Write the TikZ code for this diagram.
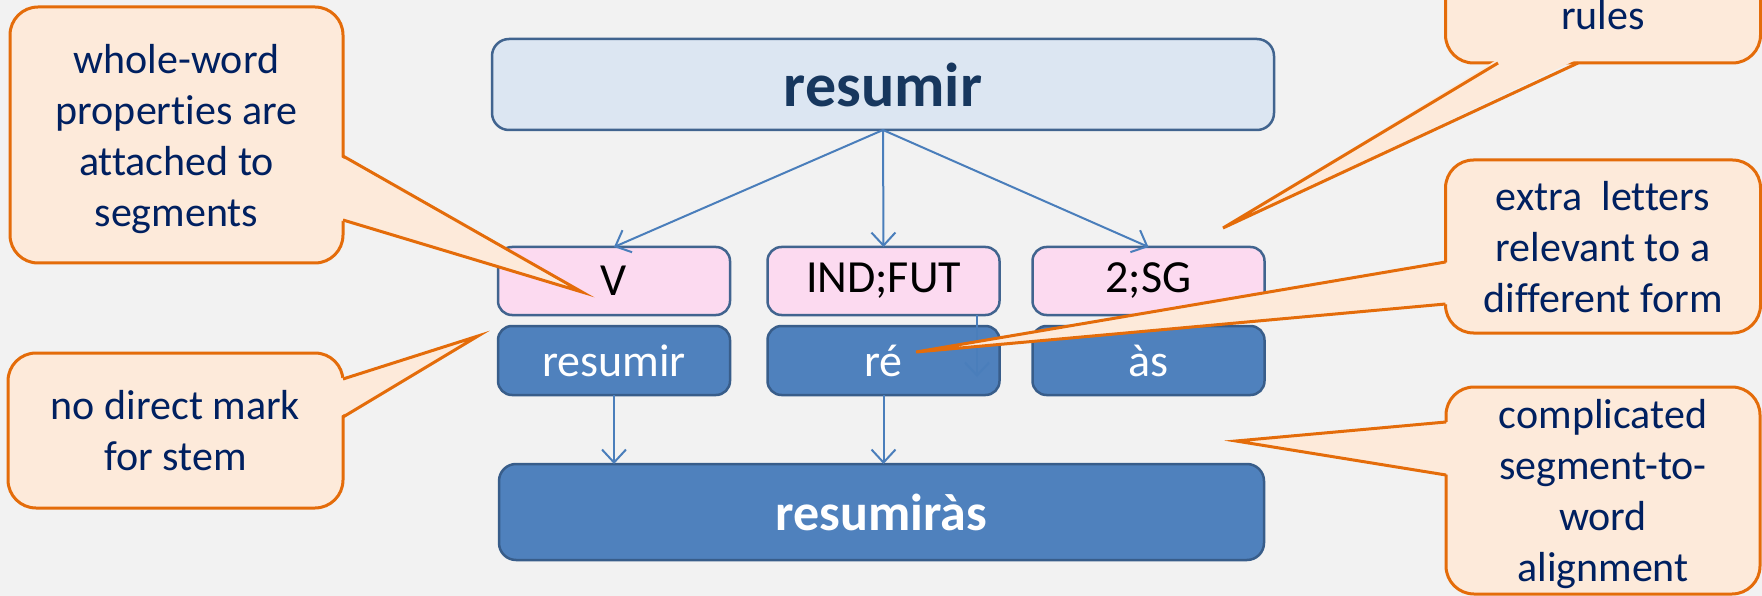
\documentclass[tikz,border=0pt]{standalone}
\usepackage{fontspec}
\setmainfont{Carlito}[Ligatures={TeX,NoCommon}]
\usetikzlibrary{arrows.meta}

\definecolor{bgcol}{HTML}{F2F2F2}
\definecolor{headfill}{HTML}{DCE6F2}
\definecolor{headline}{HTML}{41648F}
\definecolor{headtext}{HTML}{17375E}
\definecolor{tagfill}{HTML}{FCDAF0}
\definecolor{segfill}{HTML}{4F81BD}
\definecolor{segline}{HTML}{385D8A}
\definecolor{linkcol}{HTML}{4A7EBB}
\definecolor{notefill}{HTML}{FDEADA}
\definecolor{noteline}{HTML}{E46C0A}
\definecolor{notetext}{HTML}{002060}

\tikzset{
  box/.style={rectangle, rounded corners=14pt, inner sep=0pt, outer sep=0pt, line width=2.5pt},
  head/.style={box, rounded corners=17pt, fill=headfill, draw=headline, text=headtext,
    font=\fontsize{62}{74}\selectfont\bfseries, minimum width=782pt, minimum height=91pt},
  tag/.style={box, fill=tagfill, draw=headline, font=\fontsize{46}{55}\selectfont,
    minimum width=232pt, minimum height=68pt},
  seg/.style={box, fill=segfill, draw=segline, text=white, font=\fontsize{46}{55}\selectfont,
    minimum width=232pt, minimum height=69pt},
  word/.style={seg, rounded corners=17pt, font=\fontsize{52}{62}\selectfont\bfseries,
    minimum width=765pt, minimum height=96pt},
  link/.style={draw=linkcol, line width=2pt, -{Straight Barb[length=13pt,width=24pt]}},
  note/.style={rectangle, rounded corners=28pt, fill=notefill, draw=noteline, line width=3pt,
    text=notetext, align=center, font=\fontsize{42}{51}\selectfont, text depth=0pt,
    inner sep=0pt, outer sep=0pt},
  tail/.style={draw=noteline, line width=3pt}
}

\begin{document}
\begin{tikzpicture}[x=1pt,y=-1pt]
  % Canvas
  \useasboundingbox (0,0) rectangle (1762,596);
  \clip (0,0) rectangle (1762,596);
  \fill[bgcol] (0,0) rectangle (1762,596);

  % Lemma, tags and segments
  \node[head] (lemma) at (883,84.5) {resumir};
  \node[tag] (tagv) at (614,281) {V};
  \node[tag] (tagtense) at (883.5,281) {IND;FUT};
  \node[tag] (tagper) at (1148.5,281) {2;SG};
  \node[seg] (segstem) at (614,360.5) {resumir};
  \node[seg] (segtense) at (883.5,360.5) {ré};
  \node[seg] (segper) at (1148.5,360.5) {às};
  \node[word] (form) at (881.5,512) {resumiràs};

  % Arrows
  \draw[link] (lemma.south) -- (tagv.north);
  \draw[link] (lemma.south) -- (tagtense.north);
  \draw[link] (lemma.south) -- (tagper.north);
  \coordinate (stray) at (977,377);
  \draw[link] (tagtense.south -| stray) -- (stray);
  \draw[link] (segstem.south) -- (segstem.south |- form.north);
  \draw[link] (segtense.south) -- (segtense.south |- form.north);

  % Callouts
  \node[note, minimum width=333pt, minimum height=256pt] (c1) at (176.5,135)
    {whole-word\\properties are\\attached to\\segments};
  \node[note, minimum width=335pt, minimum height=155pt] (c2) at (175.5,430.5)
    {no direct mark\\for stem};
  \node[note, minimum width=315pt, text height=200pt, text depth=33pt, anchor=base] (c3)
    at (1603,30) {rules};
  \node[note, minimum width=315pt, minimum height=173pt] (c4) at (1603,246.5)
    {extra~~letters\\relevant to a\\different form};
  \node[note, minimum width=314pt, minimum height=207pt] (c5) at (1603,490.5)
    {complicated\\segment-to-\\word\\alignment};

  % Callout tails
  \coordinate (t1) at (582,292);
  \fill[notefill] ([xshift=-4pt,yshift=-21pt]c1.east) -- (t1) -- ([xshift=-4pt,yshift=-85pt]c1.east) -- cycle;
  \draw[tail] ([yshift=-21pt]c1.east) -- (t1) -- ([yshift=-85pt]c1.east);
  \coordinate (t2) at (478,336);
  \fill[notefill] ([xshift=-4pt,yshift=51.5pt]c2.east) -- (t2) -- ([xshift=-4pt,yshift=13.5pt]c2.east) -- cycle;
  \draw[tail] ([yshift=51.5pt]c2.east) -- (t2) -- ([yshift=13.5pt]c2.east);
  \coordinate (t3) at (1223,228);
  \fill[notefill] ([xshift=-105pt,yshift=4pt]c3.south) -- (t3) -- ([xshift=-25pt,yshift=4pt]c3.south) -- cycle;
  \draw[tail] ([xshift=-105pt]c3.south) -- (t3) -- ([xshift=-25pt]c3.south);
  \coordinate (t4) at (916,352);
  \fill[notefill] ([xshift=4pt,yshift=-15.5pt]c4.west) -- (t4) -- ([xshift=4pt,yshift=-57.5pt]c4.west) -- cycle;
  \draw[tail] ([yshift=-15.5pt]c4.west) -- (t4) -- ([yshift=-57.5pt]c4.west);
  \coordinate (t5) at (1236,441);
  \fill[notefill] ([xshift=4pt,yshift=68.5pt]c5.west) -- (t5) -- ([xshift=4pt,yshift=15.5pt]c5.west) -- cycle;
  \draw[tail] ([yshift=68.5pt]c5.west) -- (t5) -- ([yshift=15.5pt]c5.west);
\end{tikzpicture}
\end{document}
